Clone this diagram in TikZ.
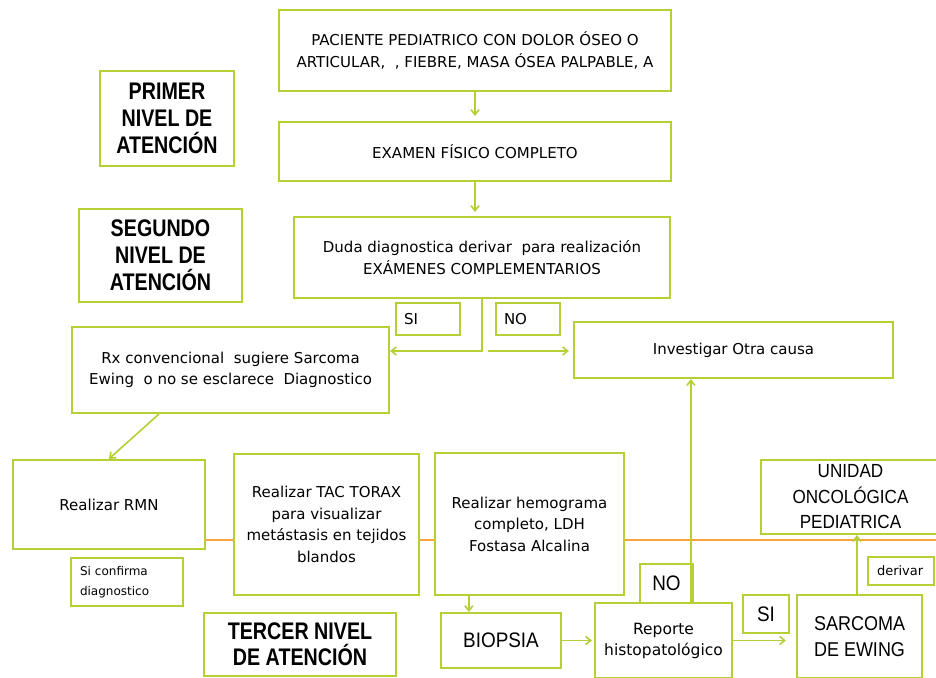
\documentclass[tikz,border=0pt]{standalone}
\usepackage{fontspec}
\setmainfont{DejaVu Sans}
\newfontfamily\condf{Liberation Sans}[FakeStretch=0.9]
\newfontfamily\condbf{Liberation Sans Bold}[FakeStretch=0.82]
\usetikzlibrary{arrows.meta,calc}
\definecolor{boxgreen}{HTML}{B5CF35}
\definecolor{orangeline}{HTML}{F9A23E}
\begin{document}
\begin{tikzpicture}[x=1pt,y=-1pt,
  box/.style={draw=boxgreen, line width=2.2pt, fill=white, inner sep=0pt, align=center},
  lbox/.style={box, align=left, inner xsep=8pt},
  arr/.style={draw=boxgreen, line width=1.6pt, -{Straight Barb[length=5pt,width=8pt]}},
  oline/.style={draw=orangeline, line width=2pt},
  txt/.style={font=\fontsize{15}{21.5}\selectfont},
  smalltxt/.style={font=\fontsize{12}{20}\selectfont},
  big/.style={font=\condf\fontsize{20}{25.5}\selectfont},
  level/.style={font=\condbf\fontsize{24}{27}\selectfont}]
\useasboundingbox[fill=white] (0,0) rectangle (936,677);

% level labels
\node[box, level, minimum width=134pt, minimum height=95pt] (primer) at (167,118.5) {PRIMER\\NIVEL DE\\ATENCIÓN};
\node[box, level, minimum width=163pt, minimum height=93pt] (segundo) at (160.5,255.5) {SEGUNDO\\NIVEL DE\\ATENCIÓN};
\node[box, font=\condbf\fontsize{24}{26}\selectfont, minimum width=192pt, minimum height=63pt] (tercer) at (300,644.5) {TERCER NIVEL\\DE ATENCIÓN};

% main flow
\node[box, txt, minimum width=392pt, minimum height=81pt] (top) at (475,50.5) {PACIENTE PEDIATRICO CON DOLOR ÓSEO O\\ARTICULAR, \ , FIEBRE, MASA ÓSEA PALPABLE, A};
\node[box, txt, minimum width=392pt, minimum height=59pt] (exam) at (475,151.5) {EXAMEN FÍSICO COMPLETO};
\node[box, txt, minimum width=376pt, minimum height=81pt] (duda) at (482,257.5) {Duda diagnostica derivar \ para realización\\EXÁMENES COMPLEMENTARIOS};
\node[lbox, txt, text width=48pt, minimum height=32pt] (si1) at (428,319) {SI};
\node[lbox, txt, text width=48pt, minimum height=32pt] (no1) at (528,319) {NO};
\node[box, txt, minimum width=317pt, minimum height=86pt] (rx) at (230.5,370) {Rx convencional \ sugiere Sarcoma\\Ewing \ o no se esclarece \ Diagnostico};
\node[box, txt, minimum width=319pt, minimum height=56pt] (inv) at (733.5,350) {Investigar Otra causa};

% third row
\node[box, txt, minimum width=192pt, minimum height=89pt] (rmn) at (109,504.5) {Realizar RMN};
\node[lbox, smalltxt, inner xsep=9pt, text width=94pt, minimum height=48pt] (sicon) at (127,582) {Si confirma\\diagnostico};
\node[box, txt, minimum width=185pt, minimum height=141pt] (tac) at (326.5,524.5) {Realizar TAC TORAX\\para visualizar\\metástasis en tejidos\\blandos};
\node[box, txt, minimum width=189pt, minimum height=142pt] (hemo) at (529.5,524) {Realizar hemograma\\completo, LDH\\Fostasa Alcalina};
\node[box, font=\condf\fontsize{19}{25.5}\selectfont, minimum width=179pt, minimum height=74pt] (unidad) at (850.5,497) {UNIDAD\\ONCOLÓGICA\\PEDIATRICA};
\node[lbox, font=\fontsize{13}{14}\selectfont, inner xsep=9pt, text width=48pt, minimum height=28pt] (derivar) at (901,571) {derivar};

% bottom row
\node[box, font=\condf\fontsize{21}{24}\selectfont, minimum width=53pt, minimum height=39pt] (no2) at (666.5,583.5) {NO};
\node[box, font=\condf\fontsize{21}{24}\selectfont, minimum width=120pt, minimum height=55pt] (biopsia) at (501,640.5) {BIOPSIA};
\node[box, font=\fontsize{15.5}{21}\selectfont, minimum width=137pt, minimum height=75pt] (reporte) at (663.5,640.5) {Reporte\\histopatológico};
\node[box, font=\condf\fontsize{21}{24}\selectfont, minimum width=46pt, minimum height=38pt] (si2) at (766,614) {SI};
\node[box, big, minimum width=125pt, minimum height=83pt] (sarcoma) at (859.5,636.5) {SARCOMA\\DE EWING};

% orange line
\coordinate (oy) at (0,540);
\draw[oline] (rmn.east |- oy) -- (tac.west |- oy);
\draw[oline] (tac.east |- oy) -- (hemo.west |- oy);
\draw[oline] (hemo.east |- oy) -- (936,540);

% connectors
\draw[arr, shorten >=5pt] (top) -- (exam);
\draw[arr, shorten >=4pt] (exam.south) -- (exam.south |- duda.north);
\coordinate (dsplit) at (482,351);
\draw[arr] (duda.south) -- (dsplit) -- (rx.east |- dsplit);
\coordinate (nsplit) at (488,351);
\draw[arr, shorten >=4pt] (nsplit) -- (inv.west |- nsplit);
\draw[arr] ($(rx.south west)+(88,0)$) -- ($(rmn.north west)+(97,0)$);
\draw[arr] ($(hemo.south west)+(35,0)$) coordinate (hb) -- (hb |- biopsia.north);
\draw[arr, shorten >=2pt] (biopsia.east) -- (reporte.west |- biopsia.east);
\draw[arr, shorten >=10pt] (reporte.east) -- (sarcoma.west |- reporte.east);
\draw[arr] ($(reporte.north west)+(97,0)$) coordinate (rp) -- (rp |- inv.south);
\draw[arr] ($(sarcoma.north west)+(61,0)$) coordinate (sp) -- (sp |- unidad.south);
\end{tikzpicture}
\end{document}
